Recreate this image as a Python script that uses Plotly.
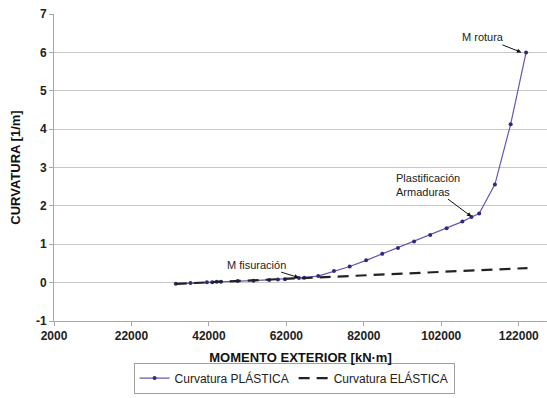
import plotly.graph_objects as go

# Data
momento_plastico = [33445, 37240, 41490, 42840, 44020, 45100, 49440, 53500, 57570,
                    59830, 61640, 65250, 66610, 70220, 74290, 78350, 82600, 86760,
                    90820, 94980, 99140, 103380, 107450, 109800, 111790, 115850,
                    119920, 123900]
curvatura_plastica = [-0.03, -0.01, 0.01, 0.01, 0.02, 0.02, 0.04, 0.05, 0.07,
                      0.08, 0.09, 0.12, 0.13, 0.17, 0.30, 0.42, 0.58, 0.75,
                      0.90, 1.07, 1.24, 1.42, 1.59, 1.71, 1.80, 2.56,
                      4.13, 6.00]

momento_elastico = [33445, 124260]
curvatura_elastica = [-0.03, 0.38]

x_ticks = [2000, 22000, 42000, 62000, 82000, 102000, 122000]
y_ticks = [-1, 0, 1, 2, 3, 4, 5, 6, 7]

annot_font = dict(family="Liberation Sans Narrow, Arial Narrow, Liberation Sans, Arial",
                  size=11, color="#222222")

fig = go.Figure()
fig.add_trace(go.Scatter(
    x=momento_plastico, y=curvatura_plastica, mode="lines+markers",
    name="Curvatura PLÁSTICA",
    line=dict(color="#6457b0", width=1.2),
    marker=dict(color="#2b2d7c", size=4),
))
fig.add_trace(go.Scatter(
    x=momento_elastico, y=curvatura_elastica, mode="lines",
    name="Curvatura ELÁSTICA",
    line=dict(color="#222222", width=2.2, dash="11px,7px"),
))

fig.add_annotation(x=122700, y=6.0, text="M rotura", showarrow=True,
                   ax=-38, ay=-15, arrowhead=2, arrowsize=0.9, arrowwidth=1,
                   arrowcolor="#111111", font=annot_font)
fig.add_annotation(x=109800, y=1.72, text="Plastificación<br>Armaduras", showarrow=True,
                   ax=-43, ay=-32, arrowhead=2, arrowsize=0.9, arrowwidth=1,
                   arrowcolor="#111111", font=annot_font, align="left")
fig.add_annotation(x=65250, y=0.13, text="M fisuración", showarrow=True,
                   ax=-42, ay=-13, arrowhead=2, arrowsize=0.9, arrowwidth=1,
                   arrowcolor="#111111", font=annot_font)

tick_font = dict(family="Liberation Sans, Arial", size=12, color="#222222")
title_font = dict(family="Liberation Sans, Arial", size=13, color="#111111")

fig.update_layout(
    width=547, height=398,
    margin=dict(l=54, r=0, t=14, b=77, autoexpand=False),
    paper_bgcolor="white", plot_bgcolor="white",
    showlegend=True,
    legend=dict(orientation="h", x=0.487, xanchor="center", y=-0.186, yanchor="middle",
                bordercolor="#a0a0a0", borderwidth=1,
                font=dict(family="Liberation Sans, Arial", size=12, color="#222222"),
                itemwidth=30, tracegroupgap=0),
    xaxis=dict(
        range=[2000, 129300], tickvals=x_ticks, ticktext=[f"<b>{v}</b>" for v in x_ticks],
        showgrid=False, zeroline=False, showline=True, linecolor="#a8a8a8", linewidth=1,
        ticks="outside", ticklen=4, tickcolor="#a8a8a8", tickfont=tick_font,
        automargin=False,
        title=dict(text="<b>MOMENTO EXTERIOR [kN·m]</b>", font=title_font, standoff=10),
    ),
    yaxis=dict(
        range=[-1, 7], tickvals=y_ticks, ticktext=[f"<b>{v}</b>" for v in y_ticks],
        showgrid=True, gridcolor="#c8c8c8", gridwidth=1, zeroline=False,
        showline=True, linecolor="#a8a8a8", linewidth=1,
        ticks="outside", ticklen=4, tickcolor="#a8a8a8", tickfont=tick_font,
        automargin=False,
        title=dict(text="<b>CURVATURA [1/m]</b>", font=title_font, standoff=12),
    ),
)

fig.write_html("out.html", config={"displayModeBar": False},
               post_script="document.body.style.margin='0';document.body.style.padding='0';")
